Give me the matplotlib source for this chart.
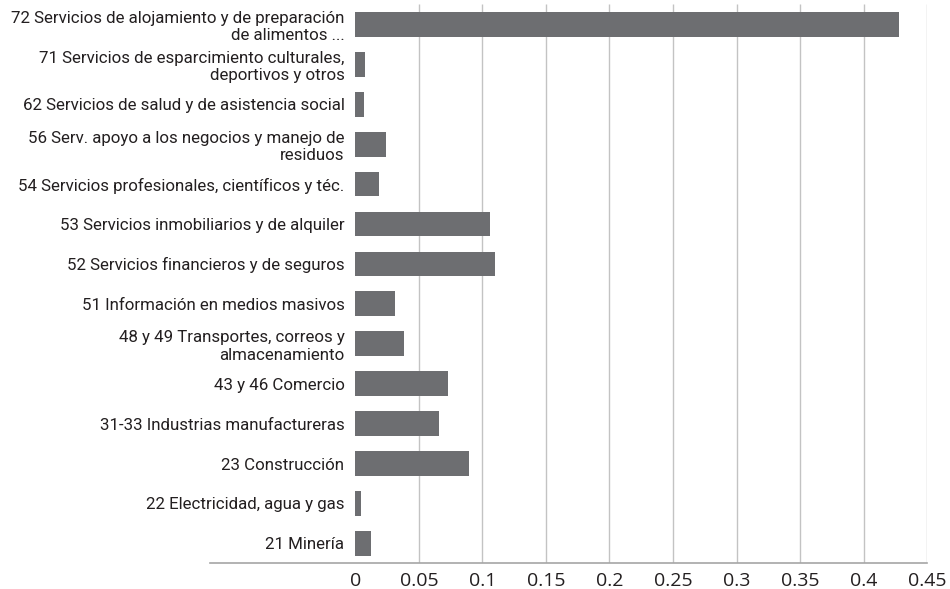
import matplotlib.pyplot as plt
import numpy as np

categorias = [
    "72 Servicios de alojamiento y de preparación\nde alimentos ...",
    "71 Servicios de esparcimiento culturales,\ndeportivos y otros",
    "62 Servicios de salud y de asistencia social",
    "56 Serv. apoyo a los negocios y manejo de\nresiduos",
    "54 Servicios profesionales, científicos y téc.",
    "53 Servicios inmobiliarios y de alquiler",
    "52 Servicios financieros y de seguros",
    "51 Información en medios masivos",
    "48 y 49 Transportes, correos y\nalmacenamiento",
    "43 y 46 Comercio",
    "31-33 Industrias manufactureras",
    "23 Construcción",
    "22 Electricidad, agua y gas",
    "21 Minería",
]
valores = [0.428, 0.0075, 0.0067, 0.024, 0.0185, 0.106, 0.110, 0.031,
           0.038, 0.073, 0.066, 0.089, 0.0043, 0.0122]
xticks = [0, 0.05, 0.1, 0.15, 0.2, 0.25, 0.3, 0.35, 0.4, 0.45]
xlabels = ["0", "0.05", "0.1", "0.15", "0.2", "0.25", "0.3", "0.35", "0.4", "0.45"]

fig = plt.figure(figsize=(9.5, 5.89), dpi=100)
ax = fig.add_axes([0.3742, 0.0436, 0.6016, 0.9489])

pos = np.arange(len(categorias))[::-1]
ax.barh(pos, valores, height=0.62, color='#6d6e71', zorder=3)
ax.vlines(xticks[1:], -0.5, len(categorias) - 0.5, color='#c3c3c3', linewidth=1, zorder=1)

ax.set_xlim(0, 0.45)
ax.set_ylim(-0.5, len(categorias) - 0.5)
ax.set_yticks(pos)
ax.set_yticklabels(categorias, fontsize=12.2, family='Roboto', color='#231f20',
                   linespacing=1.2)
ax.set_xticks(xticks)
ax.set_xticklabels(xlabels, fontsize=14, family='Open Sans', color='#231f20')
ax.tick_params(length=0)
ax.tick_params(axis='y', pad=8)
ax.tick_params(axis='x', pad=6)

for s in ['top', 'right', 'left', 'bottom']:
    ax.spines[s].set_visible(False)

# linea inferior que se extiende bajo las etiquetas
ax.plot([-0.2546, 1.0], [0, 0], transform=ax.transAxes, color='#a6a6a6',
        linewidth=1.2, clip_on=False, zorder=4)

fig.savefig('out.png', dpi=100)
